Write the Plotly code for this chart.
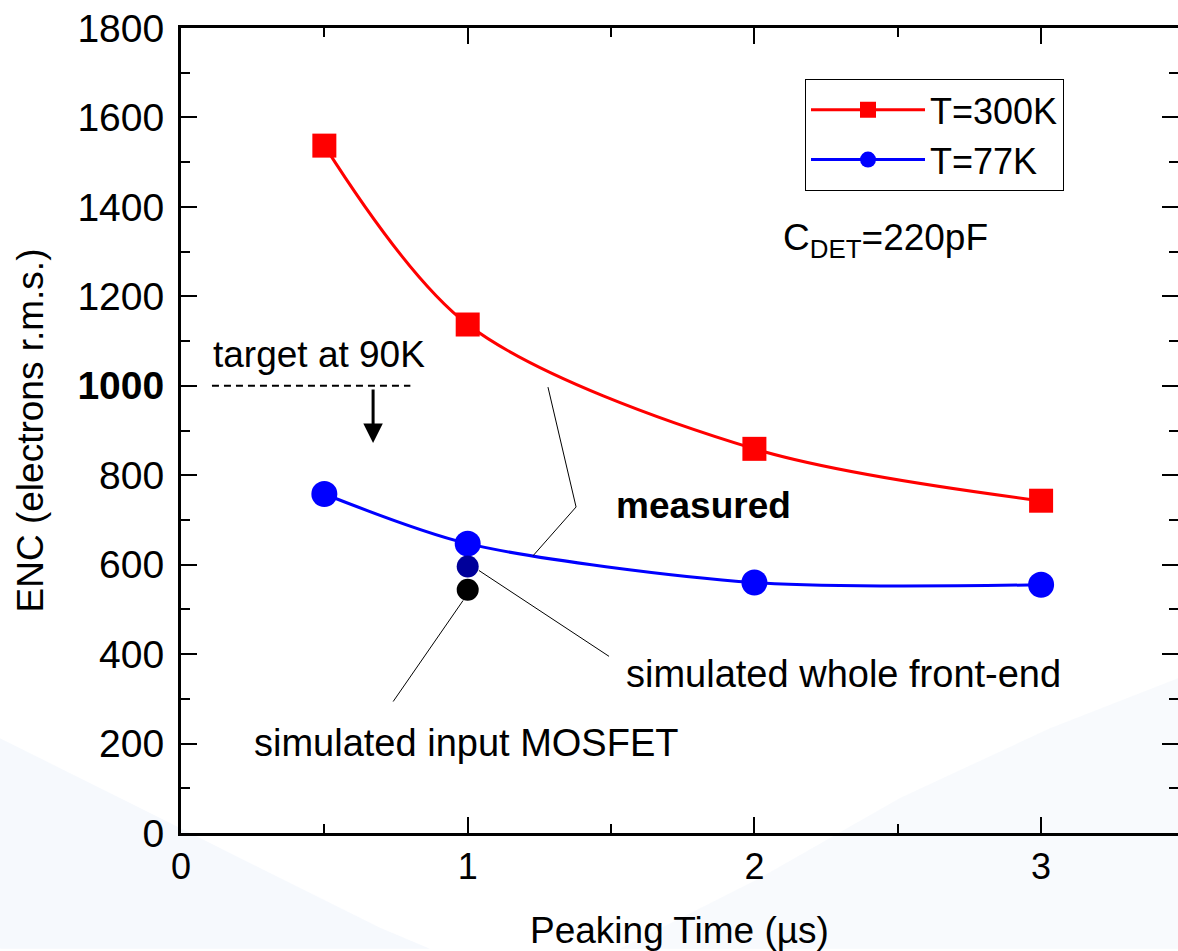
import plotly.graph_objects as go

# ---- data ----
peaking_time = [0.5, 1, 2, 3]
enc_300K = [1537, 1137, 859, 743]
enc_77K = [758, 647, 560, 555]
sim_time = [1]
sim_whole_frontend = [596]
sim_input_mosfet = [544]
y_tickvals = [0, 200, 400, 600, 800, 1000, 1200, 1400, 1600, 1800]
y_ticktext = ["0", "200", "400", "600", "800", "<b>1000</b>", "1200", "1400", "1600", "1800"]
x_tickvals = [0, 1, 2, 3]
x_ticktext = ["0", "1", "2", "3"]
target_enc = 1000

FONT = "Liberation Sans, Arial, sans-serif"
FS = 37
W, H = 1178, 951
ML, MR, MT, MB = 181, 0, 28, 116
PW, PH = W - ML - MR, H - MT - MB
Y_RANGE = [0, 1800]


def paper(px, py):
    # screen pixel -> paper coordinates
    return (px - ML) / PW, (H - MB - py) / PH


def path(points):
    pts = [paper(*p) for p in points]
    return "M " + " L ".join(f"{x:.4f},{y:.4f}" for x, y in pts) + " Z"


fig = go.Figure()

fig.add_trace(go.Scatter(
    x=peaking_time, y=enc_300K, name="T=300K", mode="lines+markers",
    line=dict(color="#ff0000", width=3, shape="spline", smoothing=0.9),
    marker=dict(symbol="square", size=24, color="#ff0000"),
))
fig.add_trace(go.Scatter(
    x=peaking_time, y=enc_77K, name="T=77K", mode="lines+markers",
    line=dict(color="#0000ff", width=3, shape="spline", smoothing=0.8),
    marker=dict(symbol="circle", size=26, color="#0000ff"),
))
fig.add_trace(go.Scatter(
    x=sim_time, y=sim_whole_frontend, mode="markers", showlegend=False,
    marker=dict(symbol="circle", size=22, color="#00009a"),
))
fig.add_trace(go.Scatter(
    x=sim_time, y=sim_input_mosfet, mode="markers", showlegend=False,
    marker=dict(symbol="circle", size=22, color="#000000"),
))
# empty trace so the right-hand tick axis (ticks without a spine) is drawn
fig.add_trace(go.Scatter(x=[], y=[], yaxis="y2", showlegend=False, hoverinfo="skip"))

shapes = [
    # faint background swooshes
    dict(type="path", xref="paper", yref="paper", layer="below",
         path=path([(0, 740), (120, 800), (260, 870), (380, 930), (430, 951), (0, 951)]),
         fillcolor="#e4edf8", line=dict(width=0), opacity=0.35),
    dict(type="path", xref="paper", yref="paper", layer="below",
         path=path([(620, 951), (760, 880), (900, 800), (1050, 730), (1178, 680), (1178, 951)]),
         fillcolor="#e8eff8", line=dict(width=0), opacity=0.3),
    # target dashed line
    dict(type="line", xref="x", yref="y", x0=0.108, x1=0.80, y0=target_enc, y1=target_enc,
         line=dict(color="black", width=2, dash="7px,5px")),
    # leader lines
    dict(type="path", xref="x", yref="y",
         path="M 1.280,997 L 1.378,729 L 1.228,620", line=dict(color="black", width=1)),
    dict(type="line", xref="x", yref="y", x0=1.039, y0=587, x1=1.493, y1=395,
         line=dict(color="black", width=1)),
    dict(type="line", xref="x", yref="y", x0=0.984, y0=520, x1=0.740, y1=294,
         line=dict(color="black", width=1)),
]

annotations = [
    dict(x=0.105, y=1070, xref="x", yref="y", text="target at 90K", showarrow=False,
         xanchor="left", yanchor="middle", font=dict(size=FS)),
    dict(x=1.51, y=732, xref="x", yref="y", text="<b>measured</b>", showarrow=False,
         xanchor="left", yanchor="middle", font=dict(size=FS)),
    dict(x=1.545, y=355, xref="x", yref="y", text="simulated whole front-end", showarrow=False,
         xanchor="left", yanchor="middle", font=dict(size=38)),
    dict(x=0.248, y=201, xref="x", yref="y", text="simulated input MOSFET", showarrow=False,
         xanchor="left", yanchor="middle", font=dict(size=38)),
    dict(x=2.093, y=1325, xref="x", yref="y", text="C<sub>DET</sub>=220pF", showarrow=False,
         xanchor="left", yanchor="middle", font=dict(size=FS)),
    dict(x=0.67, y=872, ax=0.67, ay=995, xref="x", yref="y", axref="x", ayref="y",
         text="", showarrow=True, arrowhead=2, arrowsize=1.3, arrowwidth=3, arrowcolor="black"),
]

lx, ly = paper(805, 79)
fig.update_layout(
    width=W, height=H,
    margin=dict(l=ML, r=MR, t=MT, b=MB),
    paper_bgcolor="white", plot_bgcolor="rgba(0,0,0,0)",
    font=dict(family=FONT, size=FS, color="black"),
    shapes=shapes, annotations=annotations,
    showlegend=True,
    legend=dict(x=lx, y=ly, xanchor="left", yanchor="top",
                bordercolor="black", borderwidth=1, bgcolor="rgba(255,255,255,0)",
                font=dict(size=36), itemwidth=114, tracegroupgap=0),
    xaxis=dict(range=[0, PW / 286.7], tickvals=x_tickvals, ticktext=x_ticktext,
               tickfont=dict(size=36), ticklabeloverflow="allow",
               ticks="inside", ticklen=16, tickwidth=2, tickcolor="black",
               minor=dict(dtick=0.5, ticks="inside", ticklen=9, tickwidth=2, tickcolor="black"),
               showline=True, linecolor="black", linewidth=3, mirror="ticks",
               showgrid=False, zeroline=False, ticklabelstandoff=0,
               title=dict(text="Peaking Time (µs)", standoff=38, font=dict(size=FS))),
    yaxis=dict(range=Y_RANGE, tickvals=y_tickvals, ticktext=y_ticktext,
               tickfont=dict(size=39), ticklabeloverflow="allow",
               ticks="inside", ticklen=16, tickwidth=2, tickcolor="black",
               minor=dict(dtick=100, ticks="inside", ticklen=9, tickwidth=2, tickcolor="black"),
               showline=True, linecolor="black", linewidth=3, mirror=False,
               showgrid=False, zeroline=False, ticklabelstandoff=6,
               title=dict(text="ENC (electrons r.m.s.)", standoff=23, font=dict(size=FS))),
    yaxis2=dict(range=Y_RANGE, overlaying="y", side="right", tickvals=y_tickvals,
                showticklabels=False, showline=False, showgrid=False, zeroline=False,
                ticks="inside", ticklen=16, tickwidth=2, tickcolor="black",
                minor=dict(dtick=100, ticks="inside", ticklen=9, tickwidth=2, tickcolor="black")),
)

fig.write_html(
    "out.html",
    config={"displayModeBar": False},
    post_script="document.body.style.margin='0';document.body.style.overflow='hidden';",
)
